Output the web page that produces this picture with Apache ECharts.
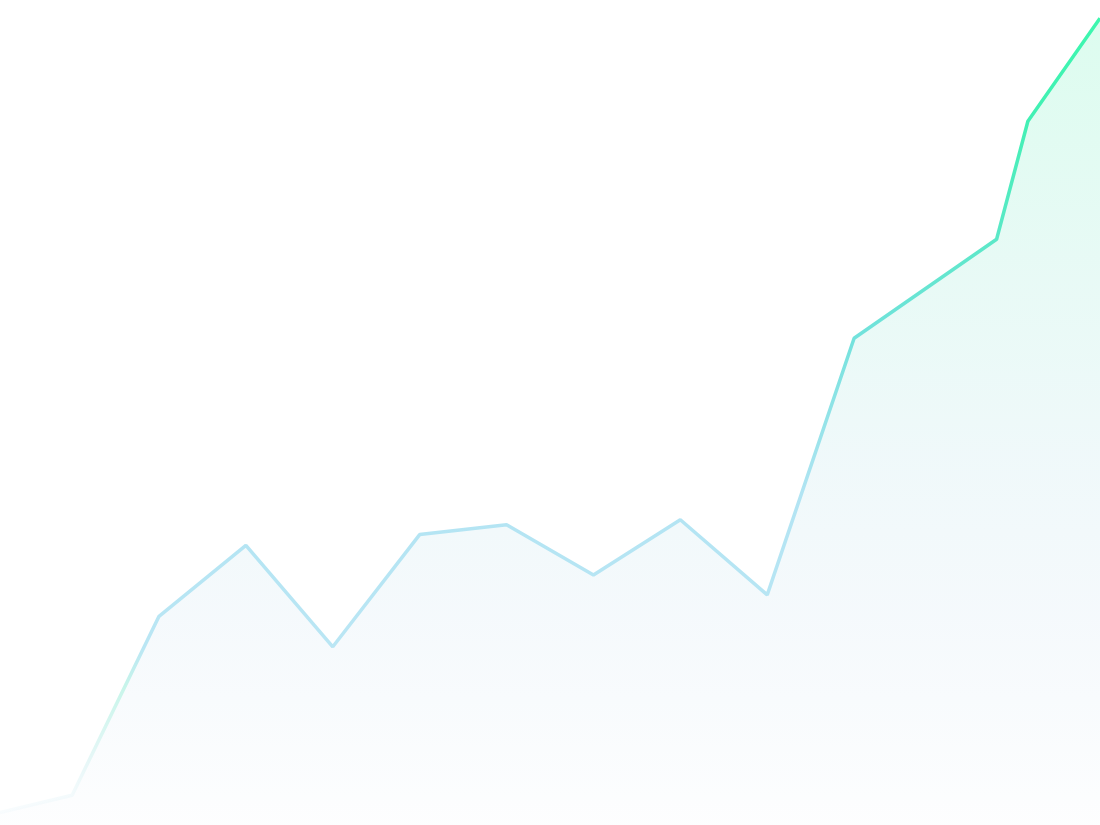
<!DOCTYPE html>
<html>
<head>
<meta charset="utf-8">
<style>
html,body{margin:0;padding:0;background:#ffffff;}
#chart{width:1100px;height:825px;}
</style>
<script src="https://cdn.jsdelivr.net/npm/echarts@6/dist/echarts.min.js"></script>
</head>
<body>
<div id="chart"></div>
<script>
// x positions (time index units) and values
var xValues = [0.17, 1, 2, 3, 4, 5, 6, 7, 8, 9, 10, 11.64, 12, 12.83];
var yValues = [1.5, 3.6, 25.3, 33.9, 21.6, 35.2, 36.4, 30.3, 37.0, 27.9, 59.0, 71.0, 85.3, 97.8];
var xMin = 0.17, xMax = 12.83;
var yMin = 0, yMax = 100;

var seriesData = xValues.map(function (x, i) { return [x, yValues[i]]; });

var chart = echarts.init(document.getElementById('chart'));
chart.setOption({
  backgroundColor: '#ffffff',
  animation: false,
  grid: { left: 0, right: 0, top: 0, bottom: 0 },
  xAxis: { type: 'value', min: xMin, max: xMax, show: false },
  yAxis: { type: 'value', min: yMin, max: yMax, show: false },
  series: [{
    type: 'line',
    data: seriesData,
    showSymbol: false,
    symbol: 'none',
    lineStyle: {
      width: 3.5,
      color: new echarts.graphic.LinearGradient(0, 0, 0, 1, [
        { offset: 0, color: '#3cf7ae' },
        { offset: 0.13, color: '#42f0b4' },
        { offset: 0.28, color: '#5ce8c8' },
        { offset: 0.40, color: '#72e2dc' },
        { offset: 0.60, color: '#b2e4f3' },
        { offset: 0.79, color: '#bae6f4' },
        { offset: 0.84, color: '#c8f5ea' },
        { offset: 0.93, color: '#e6f7f7' },
        { offset: 1, color: 'rgba(240,248,252,0.4)' }
      ])
    },
    areaStyle: {
      color: new echarts.graphic.LinearGradient(0, 0, 0, 1, [
        { offset: 0, color: '#cefbe8' },
        { offset: 0.3, color: '#ddf8f1' },
        { offset: 0.55, color: '#e9f6f8' },
        { offset: 0.75, color: '#f1f7fb' },
        { offset: 1, color: '#fcfdfe' }
      ])
    }
  }]
});
</script>
</body>
</html>
